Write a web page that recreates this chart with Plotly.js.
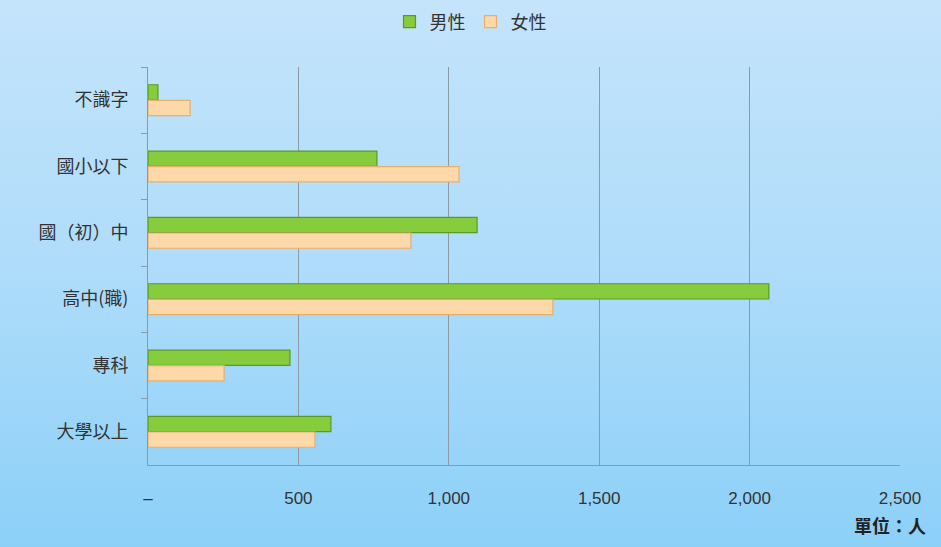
<!DOCTYPE html>
<html>
<head>
<meta charset="utf-8">
<script src="https://cdn.plot.ly/plotly-3.0.1.min.js"></script>
<style>
html,body{margin:0;padding:0;}
body{width:941px;height:547px;background:linear-gradient(to bottom,#c4e4fb 0%,#aedcfa 50%,#8cd0f8 100%);}
#chart{width:941px;height:547px;}
</style>
</head>
<body>
<div id="chart"></div>
<script>
const categories = ['不識字','國小以下','國（初）中','高中(職)','專科','大學以上'];
const maleValues = [33, 761, 1094, 2064, 472, 608];
const femaleValues = [140, 1034, 874, 1346, 253, 555];
const seriesNames = ['男性','女性'];
const xTickVals = [0, 500, 1000, 1500, 2000, 2500];
const xTickText = ['–', '500', '1,000', '1,500', '2,000', '2,500'];
const unitLabel = '單位：人';

const traces = [
  {type:'bar', orientation:'h', name:seriesNames[0], y:categories, x:maleValues,
   marker:{color:'#86cc3c', line:{color:'#5b9a22', width:1.2}}, hoverinfo:'x+name'},
  {type:'bar', orientation:'h', name:seriesNames[1], y:categories, x:femaleValues,
   marker:{color:'#fdd8a8', line:{color:'#e8ae6e', width:1.2}}, hoverinfo:'x+name'}
];

const layout = {
  width:941, height:547,
  paper_bgcolor:'rgba(0,0,0,0)', plot_bgcolor:'rgba(0,0,0,0)',
  margin:{l:148, r:41, t:67, b:82},
  barmode:'group', bargap:0.53, bargroupgap:0.02,
  showlegend:true,
  legend:{orientation:'h', xref:'container', yref:'container', x:0.5, xanchor:'center', y:0.96, yanchor:'middle',
          font:{family:'Noto Sans CJK TC, sans-serif', size:18, color:'#333'}, traceorder:'normal',
          itemwidth:30, bgcolor:'rgba(0,0,0,0)'},
  xaxis:{range:[0,2500], tickvals:xTickVals, ticktext:xTickText, showgrid:true, gridcolor:'#8c9aa6', gridwidth:1,
         zeroline:false, showline:true, linecolor:'#8c9aa6', ticks:'', ticklabelstandoff:18,
         tickfont:{family:'Liberation Sans Narrow, Arial Narrow, sans-serif', size:17, color:'#333'}, fixedrange:true},
  yaxis:{autorange:'reversed', showline:true, linecolor:'#8c9aa6', ticks:'outside', tickson:'boundaries', ticklen:6,
         tickcolor:'#8c9aa6', ticklabelstandoff:15, showgrid:false,
         tickfont:{family:'Noto Sans CJK TC, sans-serif', size:18, color:'#333'}, fixedrange:true},
  annotations:[{text:'<b>'+unitLabel+'</b>', xref:'paper', yref:'paper', x:1.037, xanchor:'right', y:-0.151, yanchor:'middle',
                showarrow:false, font:{family:'Noto Sans CJK TC, sans-serif', size:18, color:'#222'}}]
};

Plotly.newPlot('chart', traces, layout, {displayModeBar:false, staticPlot:true});
</script>
</body>
</html>
